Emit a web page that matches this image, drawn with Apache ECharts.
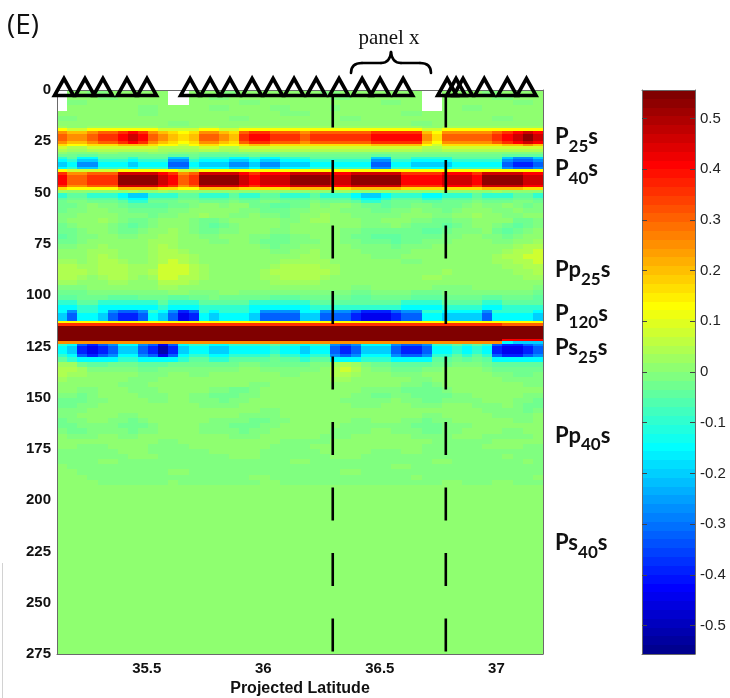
<!DOCTYPE html>
<html>
<head>
<meta charset="utf-8">
<script src="https://cdn.jsdelivr.net/npm/echarts@6/dist/echarts.min.js"></script>
<style>
  html, body { margin: 0; padding: 0; background: #ffffff; }
  #chart { width: 730px; height: 698px; }
</style>
</head>
<body>
<div id="chart"></div>
<script>
// ---------------------------------------------------------------
// Receiver-function depth section along the projected profile.
// Amplitudes are stored as one character per bin; each code maps
// to an amplitude in levelValues ('_' = no data).
// ---------------------------------------------------------------
const levelCodes  = 'NDBbLcCqth,.kglYyaoOrRmMX';
const levelValues = [-0.512, -0.443, -0.391, -0.321, -0.269, -0.2, -0.148, -0.096, -0.044, -0.026, -0.009,
                      0.009, 0.026, 0.044, 0.078, 0.13, 0.165, 0.2, 0.252, 0.304, 0.356, 0.408, 0.46, 0.53, 0.6];

// Latitude bin edges (48 bins)
const columnEdges = [35.115, 35.158, 35.202, 35.245, 35.289, 35.332, 35.376, 35.419, 35.463, 35.506,
  35.549, 35.593, 35.636, 35.680, 35.723, 35.767, 35.810, 35.853, 35.897, 35.940,
  35.984, 36.027, 36.071, 36.114, 36.158, 36.201, 36.244, 36.288, 36.331, 36.375,
  36.418, 36.462, 36.505, 36.549, 36.592, 36.635, 36.679, 36.722, 36.766, 36.809,
  36.853, 36.896, 36.940, 36.983, 37.026, 37.070, 37.113, 37.157, 37.200];

// Depth bin edges (km)
const depthEdges = [0, 2.5, 5, 7.5, 10, 12.5, 15,
  17.5, 18.75, 20, 21.25, 22.5, 23.75, 25, 26.25, 27.5, 28.75, 30, 31.25, 32.5, 33.75, 35, 36.25, 37.5, 38.75,
  40, 41.25, 42.5, 43.75, 45, 46.25, 47.5, 48.75, 50, 51.25, 52.5, 53.75,
  55, 57.5, 60, 62.5, 65, 67.5, 70, 72.5, 75, 77.5, 80, 82.5, 85, 87.5, 90, 92.5, 95, 97.5, 100, 102.5, 105,
  107.5, 108.75, 110, 111.25, 112.5, 113.75, 115, 116.25, 117.5, 118.75, 120, 121.25, 122.5, 123.75, 125,
  126.25, 127.5, 128.75,
  130, 132.5, 135, 137.5, 140, 142.5, 145, 147.5, 150, 152.5, 155, 157.5, 160, 162.5, 165, 167.5, 170,
  172.5, 175, 177.5, 180, 182.5, 185, 187.5, 190,
  192.5, 275];

// 0 - 17.5 km
const shallowRows = [
  "_..,,... ...__... ,,...... ..,,.... ....__.. ..,,....",
  "_...,,.. ...__.., ,....... ...,,... ....__.. ...,,...",
  "_,,..... ...__... ..,,.... ........ ,,..__.. .....,,.",
  "_....... ,,....., ,....,,. ...,.... ....__.. ,,......",
  "........ ,,...... ......,, ,....... ..,,.... ........",
  ",,...... ........ .,,..... ....,,.. ........ ...,,...",
  "........ ...,,... ........ ........ ...,,... ........"
];

// 17.5 - 55 km (P25s, P40s)
const upperRows = [
  "k..kkkkk kk....kk ..kkkkkk kkkkkkkk kkkk..kk kkkkkkkk",
  "YllYYYYY YYllllYY llYYYYYY YYYYYYYY YYYYllYY YYYYYYYY",
  "oaaoOOrR roayYyoo ayOrrOOO oOOOOOOr rrrraYoo oooOrRmR",
  "OooOrrRm ROoayaOO oarRRrrr OrrrrrrR RRRRoyOO OOOrRmMm",
  "OooOrrRm ROoayaOO oarRRrrr OrrrrrrR RRRRoyOO OOOrRmMm",
  "OooOrrRm ROoayaOO oarRRrrr OrrrrrrR RRRRoyOO OOOrRmMm",
  "oaaoOOrR roayYyoo ayOrrOOO oOOOOOOr rrrraYoo oooOrRmR",
  "yYYyyyaa ayYYlYyy YYyaayyy yyyyyyya aaaaYlyy yyyyaaoa",
  "lgglllll llggggll ggllllll llllllll llllggll llllllll",
  "gkkggggg ggkkkkgg kkgggggg gggggggg ggggkkgg gggggggg",
  ".,,,..,, ,..,,,hh h,,,,,,, ,,,,,,,, ,,,,,,,, ,,,,,,,,",
  "hhtthhhh hhhtthtt ttthtthh hhhhhhht thhhhhhh hhhhtttt",
  "qtCCtttq tttcctqq qCCqCCqq qttttttc cttqqqqt ttttcLLc",
  "CqccqqqC qqqLLqCC CccCccCC CqqqqqqL LqqCCCCq qqqqLbbL",
  "cCLLCCCc CCCbbCcc cLLcLLcc cCCCCCCb bCCccccC CCCCbBBb",
  "cCLLCCCc CCCbbCcc cLLcLLcc cCCCCCCb bCCccccC CCCCbBBb",
  "CqccqqqC qqqLLqCC CccCccCC CqqqqqqL LqqCCCCq qqqqLbbL",
  "YlllllYY YYYYllYY YYYYYYYY YYYYYYYY YYYYYYYY YYYYYYYY",
  "rooOOOmm mmRroOmm mmRrRRRm mmmRRmmm mmrrrrRR RrmmmmRR",
  "ROOrrrMM MMmROrMM MMmRmmmM MMMmmMMM MMRRRRmm mRMMMMmm",
  "ROOrrrMM MMmROrMM MMmRmmmM MMMmmMMM MMRRRRmm mRMMMMmm",
  "ROOrrrMM MMmROrMM MMmRmmmM MMMmmMMM MMRRRRmm mRMMMMmm",
  "ROOrrrMM MMmROrMM MMmRmmmM MMMmmMMM MMRRRRmm mRMMMMmm",
  "rooOOOmm mmRroOmm mmRrRRRm mmmRRmmm mmrrrrRR RrmmmmRR",
  "yYYYYYaa aayyYYaa aayyyyya aaayyaaa aayyyyyy yyaaaayy",
  "k......k ..k..... ........ ....k... ........ ...k....",
  "qttqqqCc cqqqttqq qtqqttqq qtqqqCcc CqqqCCqq qtqqqttq",
  "qttqqqCc cqqqttqq qtqqttqq qtqqqCcc CqqqCCqq qtqqqttq",
  "thhtttqC Cttthhtt thtthhtt thtttqCC qtttqqtt thttthht",
  "h,,hhhtq qhhh,,hh h,hh,,hh h,hhhtqq thhhtthh h,hhh,,h"
];

// 55 - 107.5 km (Pp25s)
const middleRows = [
  "hh,.,,ht ttthh,.. ,..hhtth h.,..,hh thh,,hhh ,.,,.,h,",
  "h,,..,,h hhh,,... ..,,hhh, ,...,,,h h,,.,,h, ...,,.,,",
  ",,....,, ,h,,..k. .,,.,,h, ..k..,,, ,,...,,. .k..,,..",
  ",...k.,h h,...,hh ,.....,, .kk...,, ...,,hh, ,....hh,",
  "h,...,ht h,...,ht h,....,. ......,, ,.,hhhth ,..,hth,",
  "hh,..,hh ,..k.,hh ,,...,,. ....,,hh hhhhtth, ,,.hth,.",
  "th,,..,, ..kk..,, ...,,hh, ,...,hht tthhhh,, ..,,h,..",
  "hh,..... .kkk..., ,..,hhh, ,,..,,hh hthh,,,. ...,,..k",
  ",,..k... .kgk.... ....,h,, .....,,, ,h,,,... .....kgg",
  "...kkk.. .kggk... .....,,. .k....,, ,,,..... ....kggl",
  "...kgk.. .kgggk.. ........ kk....., ,,...... ...kggll",
  "kk.kggk. .kglgk.. ......kk kkk..... ..,,.... ...kkggl",
  "ggkkgggk kklllgk. .....kgg ggkk.... ........ ....kkgg",
  "gggkgggk kglllgk. ....kggg gggk.... ......k. .....kkg",
  "ggk.kggk .kllggk. ....kkgg ggk..... ....kk.. ......kk",
  "kk...kk. ..gggk.. .....kkk kk...... ........ ........",
  ",,,..... ..kk.... ........ .....,,. .....,,, ,......,",
  "hhh,,,,, ,,,..,,, ..,,,,,, ,,,,,hh, ,,,hhh,, ,,,,,,,h",
  "tthhhttt hhhtthh, hhhhhttt hhhhhtth hhhttthh hhtthhht",
  "qqttqqqq qqtqqqtt tttqqqqq qttttttt ttqqqqtt ttqqtttt",
  "CCqqCCCC CCqCCCqq qqqCCCCC Cqqqqqqq qqCCCCqq qqCCqqqq"
];

// 107.5 - 130 km (P120s, Ps25s)
const lowerRows = [
  "CLqqCLbb LqCLBbqC qqqCLLLL CCLLLbBB BbLLqqCC CCLqqqqC",
  "cbCCcbBB bCcbDBCc CCCcbbbb ccbbbBDD DBbbCCcc ccbCCCCc",
  "cbCCcbBB bCcbDBCc CCCcbbbb ccbbbBDD DBbbCCcc ccbCCCCc",
  "cbCCcbBB bCcbDBCc CCCcbbbb ccbbbBDD DBbbCCcc ccbCCCCc",
  "YYYYYYYY YYYYYYYY YYYYYYYY YYYYYYYY YYYYYYYY YYYYYYYY",
  "rrrrrrrr rrrrrrrr rrrrrrrr rrrrrrrr rrrrrrrr rrrrOOOO",
  "XXXXXXXX XXXXXXXX XXXXXXXX XXXXXXXX XXXXXXXX XXXXXXXX",
  "XXXXXXXX XXXXXXXX XXXXXXXX XXXXXXXX XXXXXXXX XXXXXXXX",
  "XXXXXXXX XXXXXXXX XXXXXXXX XXXXXXXX XXXXXXXX XXXXXXXX",
  "XXXXXXXX XXXXXXXX XXXXXXXX XXXXXXXX XXXXXXXX XXXXXXXX",
  "XXXXXXXX XXXXXXXX XXXXXXXX XXXXXXXX XXXXXXXX XXXXXXXX",
  "XXXXXXXX XXXXXXXX XXXXXXXX XXXXXXXX XXXXXXXX XXXXRRRR",
  "oooooooo oooooooo oooooooo oooooooo oooooooo ooooCccc",
  "qCbBbLCC LbDbCqqC Cqqqqtqq CqqLbLCC CLbbLqqt qtqbBBbL",
  "CcBDBbcc bBNBcCCc cCCCCqCC cCCbBbcc cbBBbCCq CqCBDDBb",
  "CcBDBbcc bBNBcCCc cCCCCqCC cCCbBbcc cbBBbCCq CqCBDDBb",
  "CcBDBbcc bBNBcCCc cCCCCqCC cCCbBbcc cbBBbCCq CqCBDDBb",
  "qCbBbLCC LbDbCqqC Cqqqqtqq CqqLbLCC CLbbLqqt qtqbBBbL"
];

// 130 - 192.5 km
const deepRows = [
  "tqCCCCqq CCCCqttq qtttthtt qttCCCqq qCCCCtth thtCCCCC",
  "kkhtthhh ttthhhhh hh,,hhhh h,,kgk,h htttthh, ,,httttt",
  "ggk,,,,, hh,,,,,, ,,..,,,, ,,.glg., ,hhh,,.. ..,hhhhh",
  "gkk..... ,,,..,,. ......,, ...ggk.. .,,,.... ...,,hh,",
  "k......, ,,...... ........ ...kk... ...,,... ....,,,,",
  "......,, ,....... ...,,... ........ ..,,h,.. ......,,",
  "..,,..., ,,....., ,hh,.... ......,, ,,hhhh,. ........",
  ",,h,.... ,,,..,,h hh,,.... .....,,h h,,hhhh, ,.....,,",
  "hhh,,... .,,..,,, h,,..... ....,,,, ,.,,hh,, ,,...,,h",
  "hh,,.... ......,, ,,...... .....,,, ...,,,.. .,,,.,hh",
  ",,,..... ........ ....,,.. ........ ........ ..,,,,h,",
  ",,....,, ........ ..,,,,.. ........ ....,,.. ...,,,,.",
  "h,,..,,h ,......, ,,,hh,,. .....,,. ..,,h,,. .....,,.",
  "hh,,,,hh h,....,, ,hhh,,.. ....,,,, ,,,hhh,, ,.......",
  ",hh,,,,h ,,....,, ,,h,,... ...,,,,. .,,,hh,, ....,,..",
  ".,,,..,, ........ .,,,.... ..,,,... ...,,,,. ..,,,,,.",
  "........ ..,,.... ......,, ,,,..... .....,,, ,,,.....",
  "..,,,... .,,,,... .....,,, ,....... ....,,,, ,,....,,",
  ",,,,,,.. .,,,,,,. ....,,,, ,,.....,  ,,..,,,, ,,,,,,,,",
  ",,,,,,,. ..,,,,,, ,...,,,, ,,,...,, ,,,,,,,, ,,,,.,,,",
  ",,,,..,, ,,,,,,,, ,,,,,,,. .,,,,,,, ,,,,,..,  ,,,,,,.,",
  ".,,,,,,, ,,,,,,,, ,,,,,,,, ,,,,,,,, ,..,,,,, ,,,,,,,,",
  "..,,,,,, ,,,..,,, ,,,,,,,, ,,,,..,, ,,,,,,,, ,,,,,,,,",
  "...,,,,, ,,,,,,,, ,,,..,,, ,,,,,,,, ,,,.,,,, ,,,,,,,.",
  "....,,,, ,,,.,,,, ,,,,..,, ,,,,,,,, ,,,,,,.. ,,,..,,,"
];

// 192.5 - 275 km
const floorRow = "........ ........ ........ ........ ........ ........";

// Station latitudes (triangles along the top)
const stationLats = [35.145, 35.235, 35.312, 35.415, 35.501, 35.686, 35.772, 35.857, 35.952, 36.042,
  36.132, 36.227, 36.325, 36.424, 36.501, 36.600, 36.789, 36.827, 36.857, 36.948, 37.047, 37.129];

// Bounds of the sub-panel (dashed lines)
const panelEdges = [36.298, 36.783];
const panelLineDepths = [2.2, 275];

// Axis ticks
const latTicks = [35.5, 36, 36.5, 37];
const colorTicks = [-0.5, -0.4, -0.3, -0.2, -0.1, 0, 0.1, 0.2, 0.3, 0.4, 0.5];
const colorLimits = [-0.556, 0.556];

// Phase annotations: [main, subscript, tail], depth of label
const phaseNames = [['P', '25', 's'], ['P', '40', 's'], ['Pp', '25', 's'], ['P', '120', 's'],
                    ['Ps', '25', 's'], ['Pp', '40', 's'], ['Ps', '40', 's']];
const phaseDepths = [21.3, 37, 86.5, 107.5, 124.5, 167, 219.5];

// ---------------- colour map (MATLAB-style jet, 64 levels) ----------------
function buildJet(n) {
  const m = n / 4, u = [];
  for (let i = 1; i <= m; i++) u.push(i / m);
  for (let i = 0; i < m - 1; i++) u.push(1);
  for (let i = m; i >= 1; i--) u.push(i / m);
  const J = Array.from({ length: n }, () => [0, 0, 0]);
  const g0 = Math.ceil(m / 2);
  for (let k = 0; k < u.length; k++) {
    const g = g0 + k + 1, r = g + m, b = g - m;
    if (r <= n) J[r - 1][0] = u[k];
    if (g <= n) J[g - 1][1] = u[k];
    if (b >= 1) J[b - 1][2] = u[k];
  }
  return J.map(c => 'rgb(' + c.map(x => Math.round(x * 255)).join(',') + ')');
}
const JET = buildJet(64);
const CMIN = colorLimits[0], CMAX = colorLimits[1];
function jetIndex(v) {
  const k = Math.floor((v - CMIN) / (CMAX - CMIN) * 64);
  return Math.max(0, Math.min(63, k));
}

// ---------------- assemble cells ----------------
const allRows = [].concat(shallowRows, upperRows, middleRows, lowerRows, deepRows, [floorRow]);
if (allRows.length !== depthEdges.length - 1) throw new Error('row count ' + allRows.length);
const cells = [];
allRows.forEach((row, j) => {
  const s = row.replace(/ /g, '');
  if (s.length !== columnEdges.length - 1) throw new Error('row ' + j + ' has ' + s.length);
  for (let i = 0; i < s.length; i++) {
    const ch = s[i];
    if (ch === '_') continue;
    const idx = levelCodes.indexOf(ch);
    if (idx < 0) throw new Error('bad code ' + ch);
    cells.push([columnEdges[i], columnEdges[i + 1], depthEdges[j], depthEdges[j + 1], levelValues[idx]]);
  }
});

const colorBins = [];
for (let k = 0; k < 64; k++) {
  const w = (CMAX - CMIN) / 64;
  colorBins.push([0, 1, CMIN + k * w, CMIN + (k + 1) * w, k]);
}

function rectItem(api, color) {
  const p0 = api.coord([api.value(0), api.value(2)]);
  const p1 = api.coord([api.value(1), api.value(3)]);
  const x0 = Math.round(Math.min(p0[0], p1[0])), x1 = Math.round(Math.max(p0[0], p1[0]));
  const y0 = Math.round(Math.min(p0[1], p1[1])), y1 = Math.round(Math.max(p0[1], p1[1]));
  return { type: 'rect', shape: { x: x0, y: y0, width: x1 - x0, height: y1 - y0 }, style: { fill: color } };
}

const AXIS_FONT = 'Liberation Sans';
const frameLine = { show: true, onZero: false, lineStyle: { color: '#6a6a6a', width: 1 } };

const chart = echarts.init(document.getElementById('chart'), null, { renderer: 'canvas' });

chart.setOption({
  animation: false,
  backgroundColor: '#ffffff',
  grid: [
    { left: 57, top: 90, width: 486, height: 564, containLabel: false, outerBoundsMode: 'none' },
    { left: 642, top: 90, width: 53, height: 564, containLabel: false, outerBoundsMode: 'none' }
  ],
  xAxis: [
    { gridIndex: 0, type: 'value', min: 35.115, max: 37.2, position: 'bottom', z: 10,
      axisLine: frameLine, axisTick: { show: false }, splitLine: { show: false },
      axisLabel: { customValues: latTicks, fontSize: 15, fontWeight: 'bold', fontFamily: AXIS_FONT, color: '#111', margin: 7 },
      name: 'Projected Latitude', nameLocation: 'middle', nameGap: 25,
      nameTextStyle: { fontSize: 16, fontWeight: 'bold', fontFamily: AXIS_FONT, color: '#111' } },
    { gridIndex: 0, type: 'value', min: 35.115, max: 37.2, position: 'top', z: 10,
      axisLine: frameLine, axisTick: { show: false }, axisLabel: { show: false }, splitLine: { show: false } },
    { gridIndex: 1, type: 'value', min: 0, max: 1, position: 'bottom', z: 10,
      axisLine: frameLine, axisTick: { show: false }, axisLabel: { show: false }, splitLine: { show: false } },
    { gridIndex: 1, type: 'value', min: 0, max: 1, position: 'top', z: 10,
      axisLine: frameLine, axisTick: { show: false }, axisLabel: { show: false }, splitLine: { show: false } }
  ],
  yAxis: [
    { gridIndex: 0, type: 'value', inverse: true, min: 0, max: 275, interval: 25, position: 'left', z: 10,
      axisLine: frameLine, axisTick: { show: false }, splitLine: { show: false },
      axisLabel: { fontSize: 15, fontWeight: 'bold', fontFamily: AXIS_FONT, color: '#111', margin: 6 } },
    { gridIndex: 0, type: 'value', inverse: true, min: 0, max: 275, position: 'right', z: 10,
      axisLine: frameLine, axisTick: { show: false }, axisLabel: { show: false }, splitLine: { show: false } },
    { gridIndex: 1, type: 'value', min: CMIN, max: CMAX, position: 'left', z: 10,
      axisLine: frameLine, splitLine: { show: false }, axisLabel: { show: false },
      axisTick: { show: true, inside: true, length: 5, customValues: colorTicks, lineStyle: { color: '#444' } } },
    { gridIndex: 1, type: 'value', min: CMIN, max: CMAX, position: 'right', z: 10,
      axisLine: frameLine, splitLine: { show: false },
      axisTick: { show: true, inside: true, length: 5, customValues: colorTicks, lineStyle: { color: '#444' } },
      axisLabel: { customValues: colorTicks, fontSize: 15, fontFamily: AXIS_FONT, color: '#222', margin: 5,
                   formatter: v => String(Math.round(v * 10) / 10) } }
  ],
  series: [
    { type: 'custom', name: 'section', xAxisIndex: 0, yAxisIndex: 0, silent: true, z: 2,
      progressive: 0, encode: { x: [0, 1], y: [2, 3] }, data: cells,
      renderItem: (params, api) => rectItem(api, JET[jetIndex(api.value(4))]) },
    { type: 'line', xAxisIndex: 0, yAxisIndex: 0, silent: true, z: 6, symbol: 'none',
      data: panelLineDepths.map(d => [panelEdges[0], d]),
      lineStyle: { color: '#000', width: 2.6, type: [33, 32.5] } },
    { type: 'line', xAxisIndex: 0, yAxisIndex: 0, silent: true, z: 6, symbol: 'none',
      data: panelLineDepths.map(d => [panelEdges[1], d]),
      lineStyle: { color: '#000', width: 2.6, type: [33, 32.5] } },
    { type: 'scatter', xAxisIndex: 0, yAxisIndex: 0, silent: true, z: 20, clip: false,
      symbol: 'triangle', symbolSize: [19, 17], symbolOffset: [0, -3],
      itemStyle: { color: 'rgba(0,0,0,0)', borderColor: '#000', borderWidth: 3.6, opacity: 1 },
      data: stationLats.map(v => [v, 0]) },
    { type: 'custom', name: 'colorbar', xAxisIndex: 2, yAxisIndex: 2, silent: true, z: 2,
      encode: { x: [0, 1], y: [2, 3] }, data: colorBins,
      renderItem: (params, api) => rectItem(api, JET[api.value(4)]) }
  ]
});

// ---------------- annotations ----------------
const labelFont = 'Lato';
const phaseGraphics = phaseNames.map((p, i) => {
  const y = chart.convertToPixel({ yAxisIndex: 0 }, phaseDepths[i]);
  return {
    type: 'text', x: 555, y: y - 8, z: 30, silent: true,
    style: {
      text: '{m|' + p[0] + '}{d|' + p[1] + '}{m|' + p[2] + '}',
      verticalAlign: 'top', textVerticalAlign: 'top', align: 'left', textAlign: 'left',
      rich: {
        m: { fontSize: 22, fontWeight: 'bold', fontFamily: labelFont, fill: '#111', verticalAlign: 'top', lineHeight: 22 },
        d: { fontSize: 17, fontWeight: 'bold', fontFamily: labelFont, fill: '#111', verticalAlign: 'top',
             padding: [12, 0, 0, 0], lineHeight: 29 }
      }
    }
  };
});

const braceStyle = { stroke: '#000', lineWidth: 2.6, fill: null, lineCap: 'round' };
chart.setOption({
  graphic: [
    { type: 'text', x: 7, y: 12, silent: true,
      style: { text: '(E)', fontSize: 28, fontFamily: 'Open Sans', fill: '#111' } },
    { type: 'text', x: 389, y: 38, silent: true,
      style: { text: 'panel x', fontSize: 21, fontFamily: 'Liberation Serif', fill: '#111',
               align: 'center', textAlign: 'center', verticalAlign: 'middle', textVerticalAlign: 'middle' } },
    { type: 'bezierCurve', silent: true, shape: { x1: 351, y1: 73, cpx1: 351, cpy1: 63, x2: 362, y2: 63 }, style: braceStyle },
    { type: 'line', silent: true, shape: { x1: 362, y1: 63, x2: 381, y2: 63 }, style: braceStyle },
    { type: 'bezierCurve', silent: true, shape: { x1: 381, y1: 63, cpx1: 390, cpy1: 63, x2: 391, y2: 52 }, style: braceStyle },
    { type: 'bezierCurve', silent: true, shape: { x1: 391, y1: 52, cpx1: 392, cpy1: 63, x2: 401, y2: 63 }, style: braceStyle },
    { type: 'line', silent: true, shape: { x1: 401, y1: 63, x2: 420, y2: 63 }, style: braceStyle },
    { type: 'bezierCurve', silent: true, shape: { x1: 420, y1: 63, cpx1: 431, cpy1: 63, x2: 431, y2: 73 }, style: braceStyle },
    { type: 'line', silent: true, shape: { x1: 2.5, y1: 563, x2: 2.5, y2: 698 }, style: { stroke: '#d2d2d2', lineWidth: 1 } }
  ].concat(phaseGraphics)
});
</script>
</body>
</html>
